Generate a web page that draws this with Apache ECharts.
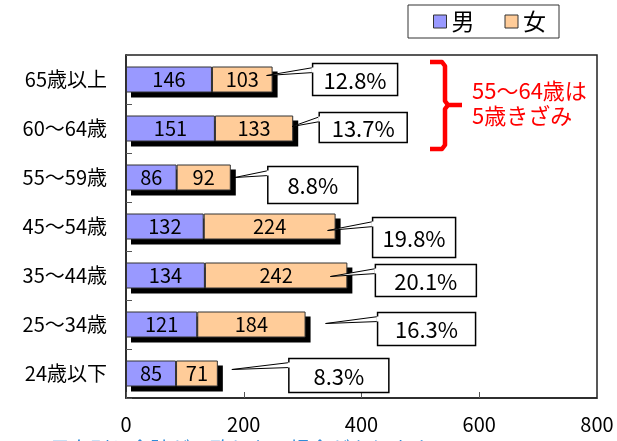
<!DOCTYPE html>
<html>
<head>
<meta charset="utf-8">
<script src="https://cdn.jsdelivr.net/npm/echarts@6/dist/echarts.min.js"></script>
<style>
  html, body { margin: 0; padding: 0; background: #fff; }
  #chart { width: 617px; height: 441px; }
</style>
</head>
<body>
<div id="chart"></div>
<script>
// 年齢区分（上から順）
const categories = ['65歳以上', '60～64歳', '55～59歳', '45～54歳', '35～44歳', '25～34歳', '24歳以下'];
const maleValues = [146, 151, 86, 132, 134, 121, 85];
const femaleValues = [103, 133, 92, 224, 242, 184, 71];
const shareLabels = ['12.8%', '13.7%', '8.8%', '19.8%', '20.1%', '16.3%', '8.3%'];
const xTicks = [0, 200, 400, 600, 800];

// 吹き出しの位置（棒の先端からのずれ）: [tipDx, tipDy, boxDx, boxDy, w, h]
const calloutLayout = [
  [-6, -4, 40, -16, 85, 32],
  [-1, -2, 26, -16, 88, 30],
  [4, 0, 37, -11, 90, 37],
  [-8, 4, 37, -9, 83, 40],
  [-17, 1, 28, -11, 101, 32],
  [20, -1, 72, -12, 98, 33],
  [14, -4, 71, -15, 100, 34]
];

const totals = maleValues.map((v, i) => v + femaleValues[i]);
const FONT = '"Noto Sans CJK JP", "Noto Sans", sans-serif';
const BAR_W = 26;

// 棒の影
function renderShadow(params, api) {
  const start = api.coord([0, api.value(1)]);
  const end = api.coord([api.value(0), api.value(1)]);
  return {
    type: 'rect',
    shape: { x: start[0] + 5, y: start[1] - BAR_W / 2 + 5, width: end[0] - start[0], height: BAR_W },
    style: { fill: '#000' }
  };
}

function renderCallout(params, api) {
  const idx = params.dataIndex;
  const end = api.coord([api.value(0), api.value(1)]);
  const l = calloutLayout[idx];
  const tip = [end[0] + l[0], end[1] + l[1]];
  const bx = end[0] + l[2];
  const by = end[1] + l[3];
  return {
    type: 'group',
    children: [
      {
        type: 'polygon',
        shape: { points: [tip, [bx + 1, by + 4], [bx + 1, by + 9]] },
        style: { fill: '#fff', stroke: '#000', lineWidth: 1 }
      },
      {
        type: 'rect',
        shape: { x: bx, y: by, width: l[4], height: l[5] },
        style: { fill: '#fff', stroke: '#000', lineWidth: 1.5 }
      },
      {
        type: 'rect',
        shape: { x: bx - 1, y: by + 4, width: 3, height: 5 },
        style: { fill: '#fff' }
      },
      {
        type: 'text',
        style: {
          text: shareLabels[idx],
          x: bx + l[4] / 2,
          y: by + l[5] / 2 + 1,
          align: 'center',
          verticalAlign: 'middle',
          fontSize: 22,
          fontFamily: FONT,
          fill: '#000'
        }
      }
    ]
  };
}

const chart = echarts.init(document.getElementById('chart'));
chart.setOption({
  animation: false,
  backgroundColor: '#fff',
  textStyle: { fontFamily: FONT },
  grid: {
    left: 126, right: 20, top: 55, bottom: 43,
    show: true, borderColor: '#222', borderWidth: 1.5
  },
  legend: {
    data: ['男', '女'],
    left: 408, top: 5,
    padding: [5, 13, 5, 25],
    borderColor: '#333', borderWidth: 1,
    icon: 'rect',
    itemWidth: 13, itemHeight: 13,
    itemGap: 30,
    itemStyle: { borderColor: '#333', borderWidth: 1 },
    textStyle: { fontSize: 23, color: '#000', fontFamily: FONT }
  },
  xAxis: {
    type: 'value',
    min: xTicks[0], max: xTicks[xTicks.length - 1], interval: 200,
    axisLine: { show: true, lineStyle: { color: '#222', width: 1.5 } },
    axisTick: { show: true, inside: true, length: 6, lineStyle: { color: '#555' } },
    splitLine: { show: false },
    axisLabel: { fontSize: 20, color: '#000', margin: 16, fontFamily: FONT }
  },
  yAxis: {
    type: 'category',
    data: categories,
    inverse: true,
    axisLine: { show: true, lineStyle: { color: '#222', width: 1.5 } },
    axisTick: { show: true, inside: true, length: 6, lineStyle: { color: '#555' } },
    axisLabel: { fontSize: 20, color: '#000', margin: 19, fontFamily: FONT }
  },
  series: [
    {
      type: 'custom',
      z: 1,
      clip: false,
      silent: true,
      data: totals.map((t, i) => [t, i]),
      renderItem: renderShadow
    },
    {
      name: '男', type: 'bar', stack: 'total', barWidth: BAR_W, z: 2,
      data: maleValues,
      itemStyle: { color: '#9999FF', borderColor: '#333', borderWidth: 1 },
      label: { show: true, position: 'inside', color: '#000', fontSize: 20, fontFamily: FONT }
    },
    {
      name: '女', type: 'bar', stack: 'total', barWidth: BAR_W, z: 2,
      data: femaleValues,
      itemStyle: { color: '#FFCC99', borderColor: '#333', borderWidth: 1 },
      label: { show: true, position: 'inside', color: '#000', fontSize: 20, fontFamily: FONT }
    },
    {
      type: 'custom',
      z: 5,
      clip: false,
      data: totals.map((t, i) => [t, i]),
      renderItem: renderCallout
    }
  ],
  graphic: [
    {
      type: 'polyline',
      shape: { points: [[430, 62], [442, 62], [445, 66], [445, 101], [448, 105], [462, 105]] },
      style: { stroke: '#FF0000', lineWidth: 4.5, fill: null, lineJoin: 'round' }
    },
    {
      type: 'polyline',
      shape: { points: [[448, 105], [445, 109], [445, 145], [442, 149], [430, 149]] },
      style: { stroke: '#FF0000', lineWidth: 4.5, fill: null, lineJoin: 'round' }
    },
    {
      type: 'text', left: 472, top: 80,
      style: { text: '55～64歳は', fontSize: 22, fill: '#FF0000', fontFamily: FONT }
    },
    {
      type: 'text', left: 472, top: 105,
      style: { text: '5歳きざみ', fontSize: 22, fill: '#FF0000', fontFamily: FONT }
    },
    {
      type: 'text', left: 30, top: 439,
      style: { text: '※男女別と合計が一致しない場合があります', fontSize: 20, fill: '#2E8BD8', fontFamily: FONT }
    }
  ]
});
</script>
</body>
</html>
